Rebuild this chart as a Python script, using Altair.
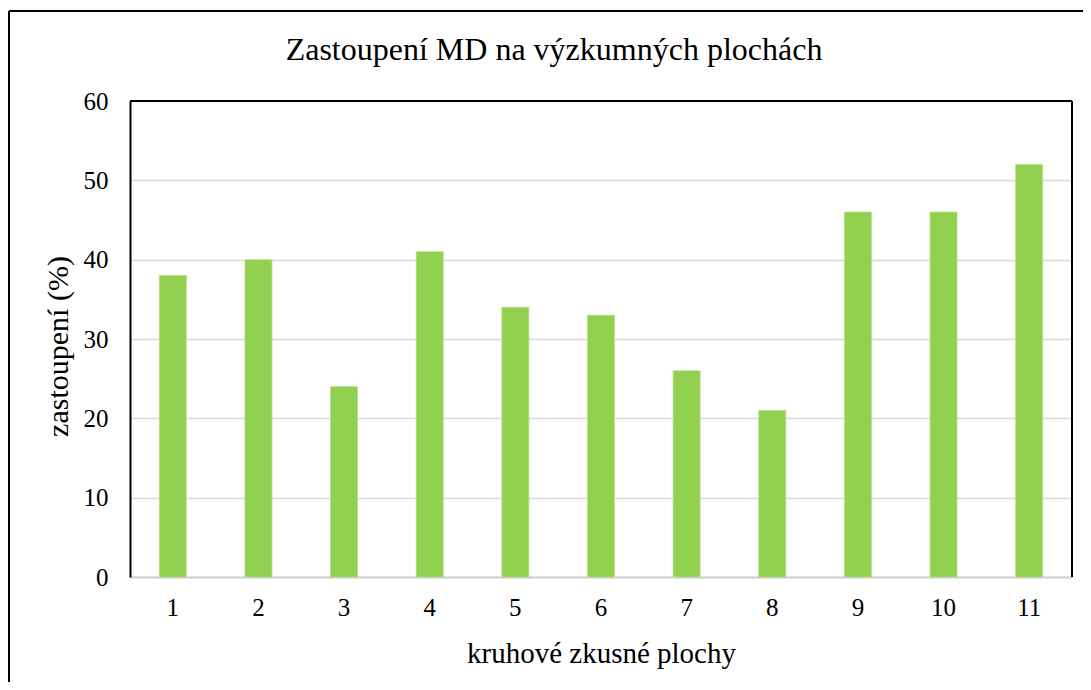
import altair as alt
import pandas as pd

plochy = ["1", "2", "3", "4", "5", "6", "7", "8", "9", "10", "11"]
zastoupeni = [38, 40, 24, 41, 34, 33, 26, 21, 46, 46, 52]
y_ticks = [0, 10, 20, 30, 40, 50, 60]
nadpis = ["Zastoupení MD na výzkumných plochách"]

df = pd.DataFrame({"plocha": plochy, "zastoupeni": zastoupeni})
df_title = pd.DataFrame({"nadpis": nadpis})

W, H = 942, 476
FONT = "Liberation Serif"

base = alt.Chart(df)

bars = base.mark_bar(size=27, color="#92D050", stroke="#b4e08a", strokeWidth=0.8).encode(
    x=alt.X("plocha:N", sort=plochy, title="kruhové zkusné plochy",
            axis=alt.Axis(labelAngle=0, labelFont=FONT, labelFontSize=25, labelColor="black",
                          labelPadding=18, ticks=False, domainColor="#d0d0d0", domainWidth=2,
                          titleFont=FONT, titleFontSize=29, titleFontWeight="normal", titleColor="black",
                          titleX=471, titleY=85, titleBaseline="alphabetic", titleAlign="center")),
    y=alt.Y("zastoupeni:Q", scale=alt.Scale(domain=[0, 60], nice=False), title="zastoupení (%)",
            axis=alt.Axis(values=y_ticks, labelFont=FONT, labelFontSize=25, labelColor="black",
                          labelPadding=22, ticks=False, domainColor="black", domainWidth=2,
                          gridColor="#d9d9d9", gridWidth=1.5,
                          titleFont=FONT, titleFontSize=30, titleFontWeight="normal", titleColor="black",
                          titleAngle=-90, titleX=-63, titleY=245, titleBaseline="alphabetic",
                          titleAlign="center")),
)

title_text = alt.Chart(df_title).mark_text(font=FONT, fontSize=32, color="black",
                                           align="center", baseline="alphabetic").encode(
    text="nadpis:N", x=alt.value(424), y=alt.value(-41))

top_rule = base.mark_rule(color="black", strokeWidth=2).encode(
    x=alt.value(0), x2=alt.value(W), y=alt.value(0))
right_rule = base.mark_rule(color="black", strokeWidth=2).encode(
    x=alt.value(W), y=alt.value(0), y2=alt.value(H))
outer_top = base.mark_rule(color="black", strokeWidth=2, clip=False).encode(
    x=alt.value(-121), x2=alt.value(1200), y=alt.value(-90))
outer_left = base.mark_rule(color="black", strokeWidth=2, clip=False).encode(
    x=alt.value(-121), y=alt.value(-90), y2=alt.value(700))

chart = alt.layer(bars, top_rule, right_rule, outer_top, outer_left, title_text).properties(
    width=W, height=H,
    autosize=alt.AutoSizeParams(type="none"),
    padding={"left": 122, "top": 93, "right": 11, "bottom": 105},
).configure_view(stroke=None).configure(background="white")

chart.save("out.html", embed_options={"renderer": "svg", "actions": False})
